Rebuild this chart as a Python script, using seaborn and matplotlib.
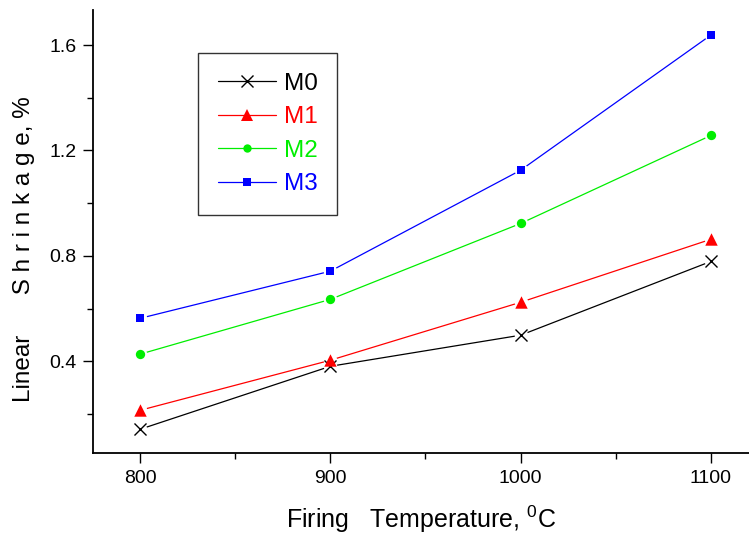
import pandas as pd
import seaborn as sns
import matplotlib.pyplot as plt
from matplotlib.lines import Line2D
from matplotlib.ticker import MultipleLocator

temps = [800, 900, 1000, 1100]
m0 = [0.142, 0.381, 0.499, 0.779]
m1 = [0.214, 0.404, 0.624, 0.863]
m2 = [0.427, 0.635, 0.923, 1.257]
m3 = [0.563, 0.742, 1.125, 1.638]
names = ["M0", "M1", "M2", "M3"]
colors = ["black", "red", "#00ee00", "blue"]
markers = ["x", "^", "o", "s"]
msizes = [75, 80, 45, 40]

df = pd.DataFrame({
    "temp": temps * 4,
    "shrink": m0 + m1 + m2 + m3,
    "series": [n for n in names for _ in temps],
})

sns.set_style("ticks")
plt.rcParams['font.family'] = ['Liberation Sans', 'DejaVu Sans']
plt.rcParams['mathtext.fontset'] = 'custom'
plt.rcParams['mathtext.rm'] = 'Liberation Sans'
plt.rcParams['text.color'] = 'black'
plt.rcParams['axes.labelcolor'] = 'black'
plt.rcParams['xtick.color'] = 'black'
plt.rcParams['ytick.color'] = 'black'

fig = plt.figure(figsize=(7.49, 5.37), dpi=100)
ax = fig.add_axes([0.1242, 0.1564, 0.8758, 0.825])

pal = dict(zip(names, colors))
# connecting lines
sns.lineplot(data=df, x="temp", y="shrink", hue="series", palette=pal,
             linewidth=0.9, legend=False, ax=ax, zorder=2)
# white halo so the lines stop short of the symbols
sns.scatterplot(data=df, x="temp", y="shrink", color="white", s=95,
                marker="o", linewidth=0, legend=False, ax=ax, zorder=2.5)
# symbols
for n, c, mk, ms in zip(names, colors, markers, msizes):
    sub = df[df["series"] == n]
    sns.scatterplot(data=sub, x="temp", y="shrink", color=c, marker=mk, s=ms,
                    linewidth=(1.0 if mk == "x" else 0), legend=False,
                    ax=ax, zorder=3)

ax.set_xlim(775.3, 1120)
ax.set_ylim(0.052, 1.733)
ax.set_xticks([800, 900, 1000, 1100])
ax.set_yticks([0.4, 0.8, 1.2, 1.6])
ax.xaxis.set_minor_locator(MultipleLocator(50))
ax.yaxis.set_minor_locator(MultipleLocator(0.2))
ax.tick_params(which="major", length=7, width=1, labelsize=14, direction="out",
               color="black", labelcolor="black", pad=5)
ax.tick_params(which="minor", length=4, width=1, direction="out", color="black")

for s in ["top", "right"]:
    ax.spines[s].set_visible(False)
for s in ["left", "bottom"]:
    ax.spines[s].set_color("black")
    ax.spines[s].set_linewidth(1.3)

ax.set_xlabel("Firing   Temperature, $^{\\mathrm{0}}$C", fontsize=18, labelpad=12,
              color="black")
ax.set_ylabel("Linear      S h r i n k a g e, %", fontsize=17.5, color="black")
ax.yaxis.set_label_coords(-0.088, 0.46)

handles = [Line2D([], [], color=c, marker=mk, linewidth=0.9,
                  markersize=(8 if mk in "x^" else 6),
                  markeredgewidth=(1.0 if mk == "x" else 0))
           for c, mk in zip(colors, markers)]
leg = ax.legend(handles, names, loc="upper left", bbox_to_anchor=(0.16, 0.903),
                borderaxespad=0, fontsize=17.5, frameon=True, fancybox=False,
                edgecolor="black", handlelength=2.4, handletextpad=0.3,
                labelspacing=0.47, borderpad=0.82)
leg.get_frame().set_linewidth(1.0)
for t, c in zip(leg.get_texts(), colors):
    t.set_color(c)

fig.savefig("out.png", dpi=100)
